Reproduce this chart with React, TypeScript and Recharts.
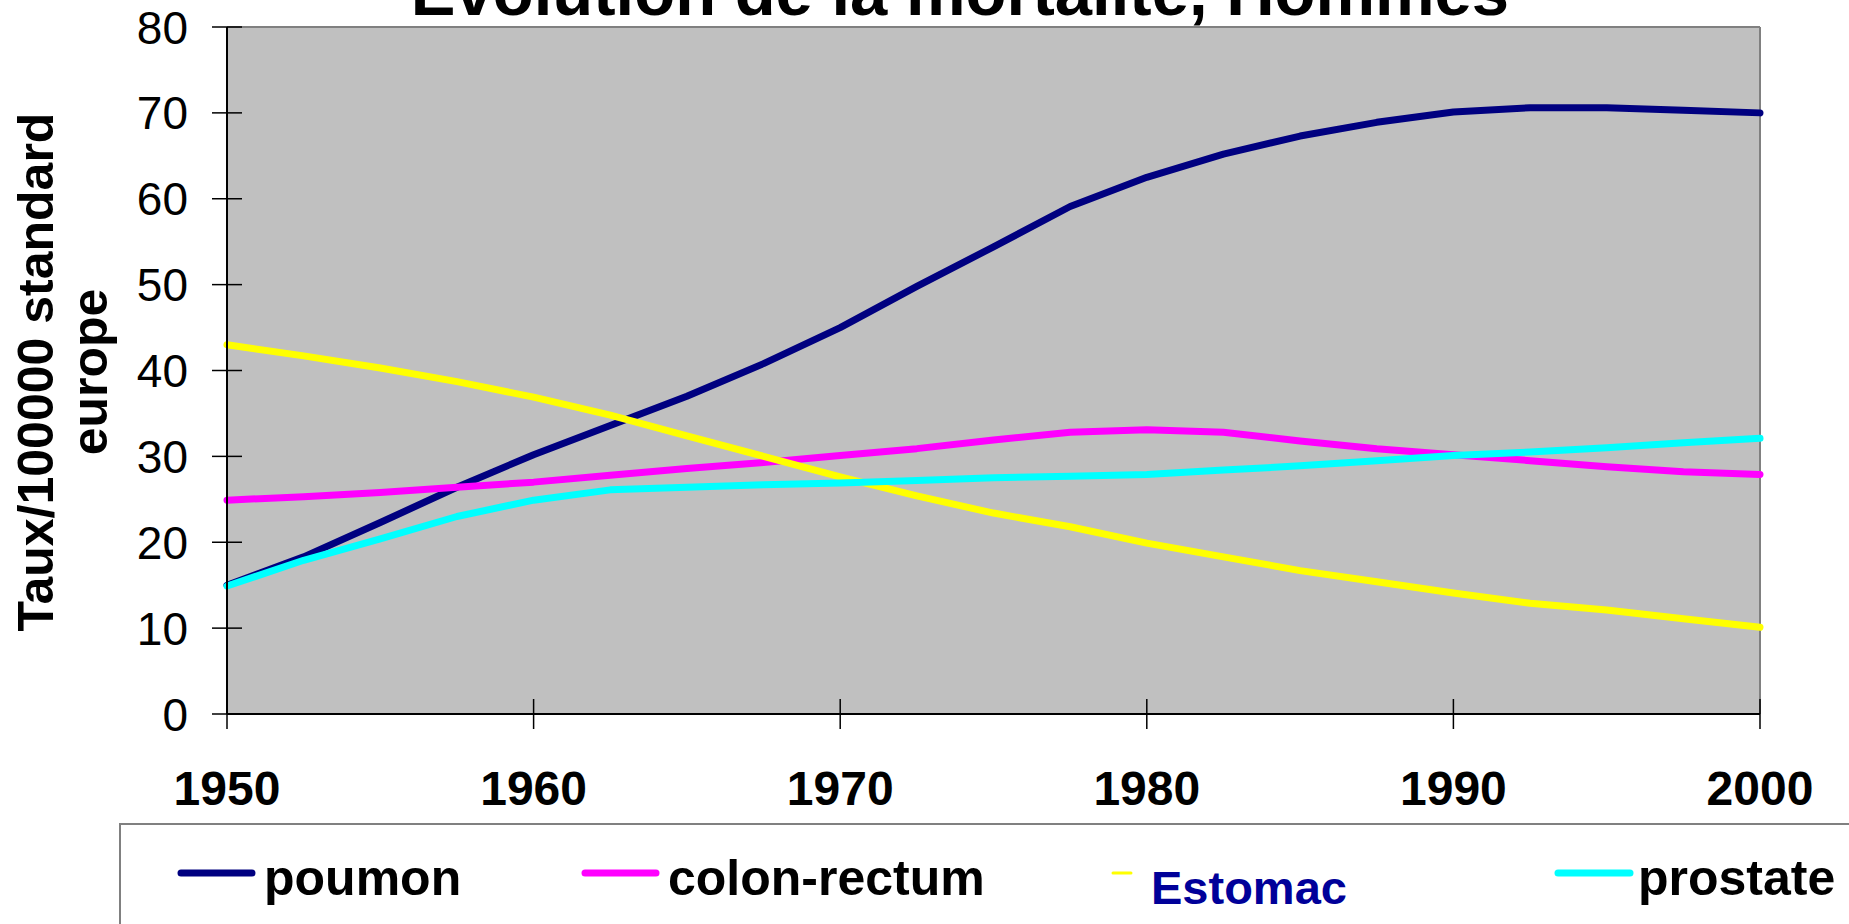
import React from "react";
import {
  LineChart,
  Line,
  XAxis,
  YAxis,
  CartesianGrid,
  ReferenceLine,
  Legend,
  Customized,
} from "recharts";

// Values, one point every 2.5 years
const YEARS = [
  1950, 1952.5, 1955, 1957.5, 1960, 1962.5, 1965, 1967.5, 1970, 1972.5, 1975,
  1977.5, 1980, 1982.5, 1985, 1987.5, 1990, 1992.5, 1995, 1997.5, 2000,
];
const POUMON = [
  15.0, 18.3, 22.3, 26.4, 30.2, 33.6, 37.0, 40.8, 45.0, 49.8, 54.4, 59.1, 62.5,
  65.2, 67.3, 68.9, 70.1, 70.6, 70.6, 70.3, 70.0,
];
const COLON_RECTUM = [
  24.9, 25.3, 25.8, 26.4, 27.0, 27.8, 28.6, 29.3, 30.1, 30.9, 31.9, 32.8, 33.1,
  32.8, 31.8, 30.9, 30.2, 29.5, 28.8, 28.2, 27.9,
];
const ESTOMAC = [
  43.0, 41.7, 40.3, 38.7, 36.9, 34.8, 32.4, 30.0, 27.6, 25.4, 23.4, 21.8, 19.9,
  18.3, 16.7, 15.4, 14.1, 12.9, 12.1, 11.1, 10.1,
];
const PROSTATE = [
  14.9, 17.9, 20.4, 23.0, 24.9, 26.1, 26.4, 26.7, 26.9, 27.2, 27.5, 27.7, 27.9,
  28.4, 28.9, 29.5, 30.1, 30.5, 31.0, 31.6, 32.1,
];

const X_TICKS = [1950, 1960, 1970, 1980, 1990, 2000];
const Y_TICKS = [0, 10, 20, 30, 40, 50, 60, 70, 80];

const TITLE = "Evolution de la mortalité, Hommes";
const Y_LABEL = ["Taux/100000 standard", "europe"];

const SERIES = [
  { key: "poumon", label: "poumon", color: "#000080" },
  { key: "colonRectum", label: "colon-rectum", color: "#FF00FF" },
  { key: "estomac", label: "Estomac", color: "#FFFF00" },
  { key: "prostate", label: "prostate", color: "#00FFFF" },
];

const data = YEARS.map((year, i) => ({
  year,
  poumon: POUMON[i],
  colonRectum: COLON_RECTUM[i],
  estomac: ESTOMAC[i],
  prostate: PROSTATE[i],
}));

const FONT = "'Liberation Sans', Arial, Helvetica, sans-serif";

// legend item placement inside the legend box (the Estomac entry is styled
// differently in the original: tiny swatch, smaller blue text)
const LEGEND_ITEMS: Record<string, any> = {
  poumon: { x: 62, len: 71, sw: 7, textGap: 12, fontSize: 50, fill: "#000", baseline: 72 },
  colonRectum: { x: 466, len: 71, sw: 7, textGap: 12, fontSize: 50, fill: "#000", baseline: 72 },
  estomac: { x: 994, len: 18, sw: 3, textGap: 20, fontSize: 47, fill: "#000099", baseline: 81 },
  prostate: { x: 1439, len: 72, sw: 7, textGap: 8, fontSize: 50, fill: "#000", baseline: 72 },
};

// ticks cross the axis line (half inside, half outside) like the original
function XTick({ x, y, payload }: any) {
  return (
    <g>
      <line x1={x} x2={x} y1={y - 15} y2={y + 15} stroke="#000" strokeWidth={1.5} />
      <text
        x={x}
        y={y + 91}
        textAnchor="middle"
        fontSize={48}
        fontWeight="bold"
        fontFamily={FONT}
        fill="#000"
      >
        {payload.value}
      </text>
    </g>
  );
}

function YTick({ x, y, payload }: any) {
  return (
    <g>
      <line x1={x - 15} x2={x + 15} y1={y} y2={y} stroke="#000" strokeWidth={1.5} />
      <text
        x={x - 39}
        y={y}
        dy="0.36em"
        textAnchor="end"
        fontSize={46}
        fontFamily={FONT}
        fill="#000"
      >
        {payload.value}
      </text>
    </g>
  );
}

function Decorations() {
  return (
    <g fontFamily={FONT} fontWeight="bold" fill="#000">
      <text x={960} y={15} textAnchor="middle" fontSize={67}>
        {TITLE}
      </text>
      <text transform="translate(53,372) rotate(-90)" textAnchor="middle" fontSize={50}>
        {Y_LABEL[0]}
      </text>
      <text transform="translate(107,372) rotate(-90)" textAnchor="middle" fontSize={50}>
        {Y_LABEL[1]}
      </text>
    </g>
  );
}

function LegendBox({ payload }: any) {
  return (
    <svg width={1730} height={101} style={{ display: "block", overflow: "visible" }}>
      <line x1={0} x2={1730} y1={1} y2={1} stroke="#808080" strokeWidth={2} />
      <line x1={1} x2={1} y1={0} y2={101} stroke="#808080" strokeWidth={2} />
      {(payload || []).map((entry: any) => {
        const it = LEGEND_ITEMS[entry.dataKey];
        if (!it) return null;
        return (
          <g key={entry.dataKey}>
            <line
              x1={it.x}
              x2={it.x + it.len}
              y1={50}
              y2={50}
              stroke={entry.color}
              strokeWidth={it.sw}
              strokeLinecap="round"
            />
            <text
              x={it.x + it.len + it.textGap}
              y={it.baseline}
              fontSize={it.fontSize}
              fontWeight="bold"
              fontFamily={FONT}
              fill={it.fill}
            >
              {entry.value}
            </text>
          </g>
        );
      })}
    </svg>
  );
}

export default function App() {
  return (
    <div style={{ position: "absolute", left: 0, top: 0, background: "#fff" }}>
      <LineChart
        width={1849}
        height={924}
        data={data}
        margin={{ top: 27, right: 89, left: 127, bottom: 110 }}
        style={{ fontFamily: FONT }}
      >
        <CartesianGrid fill="#C0C0C0" horizontal={false} vertical={false} />
        <ReferenceLine y={80} stroke="#808080" strokeWidth={2} />
        <ReferenceLine x={2000} stroke="#808080" strokeWidth={2} />
        <XAxis
          type="number"
          dataKey="year"
          domain={[1950, 2000]}
          ticks={X_TICKS}
          interval={0}
          height={100}
          tickSize={0}
          tickMargin={0}
          tickLine={false}
          axisLine={{ stroke: "#000", strokeWidth: 2 }}
          tick={<XTick />}
        />
        <YAxis
          type="number"
          domain={[0, 80]}
          ticks={Y_TICKS}
          interval={0}
          width={100}
          tickSize={0}
          tickMargin={0}
          tickLine={false}
          axisLine={{ stroke: "#000", strokeWidth: 2 }}
          tick={<YTick />}
        />
        {SERIES.map((s) => (
          <Line
            key={s.key}
            type="linear"
            dataKey={s.key}
            name={s.label}
            stroke={s.color}
            strokeWidth={7}
            strokeLinecap="round"
            strokeLinejoin="round"
            dot={false}
            activeDot={false}
            isAnimationActive={false}
          />
        ))}
        <Legend
          verticalAlign="middle"
          align="center"
          layout="horizontal"
          wrapperStyle={{ position: "absolute", left: 119, top: 823, width: 1730, height: 101, margin: 0 }}
          content={(props: any) => <LegendBox payload={props.payload} />}
        />
        <Customized component={Decorations} />
      </LineChart>
    </div>
  );
}
